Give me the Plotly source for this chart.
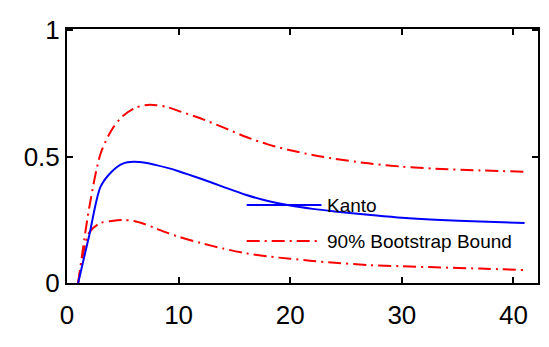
import plotly.graph_objects as go

# data
horizon = [1, 2, 3, 4, 5, 6, 7, 8, 9, 10, 12, 14, 16, 18, 20, 22, 24, 27, 30, 33, 37, 41]
kanto = [0.0, 0.19, 0.38, 0.44, 0.472, 0.479, 0.475, 0.466, 0.455, 0.442, 0.412, 0.38, 0.349,
         0.324, 0.306, 0.293, 0.283, 0.27, 0.258, 0.25, 0.243, 0.237]
upper = [0.0, 0.30, 0.51, 0.605, 0.66, 0.69, 0.703, 0.703, 0.695, 0.68, 0.65, 0.615, 0.578,
         0.548, 0.525, 0.506, 0.491, 0.473, 0.46, 0.452, 0.445, 0.44]
lower = [0.0, 0.20, 0.237, 0.245, 0.249, 0.245, 0.232, 0.215, 0.198, 0.183, 0.158, 0.136, 0.118,
         0.105, 0.096, 0.087, 0.08, 0.071, 0.066, 0.062, 0.057, 0.051]
legend_labels = ["Kanto", "90% Bootstrap Bound"]
x_ticks = [0, 10, 20, 30, 40]
y_ticks = [0, 0.5, 1]
y_tick_text = ["0", "0.5", "1"]

FONT = "Liberation Sans, Arial, sans-serif"
BLUE = "#0000ff"
RED = "#ff0000"
DASH = "13px,5px,2px,5px"

fig = go.Figure()
fig.add_trace(go.Scatter(x=horizon, y=upper, mode="lines",
                         line=dict(color=RED, width=2, dash=DASH, shape="spline", smoothing=0.8), showlegend=False))
fig.add_trace(go.Scatter(x=horizon, y=lower, mode="lines",
                         line=dict(color=RED, width=2, dash=DASH, shape="spline", smoothing=0.8), showlegend=False))
fig.add_trace(go.Scatter(x=horizon, y=kanto, mode="lines",
                         line=dict(color=BLUE, width=2, shape="spline", smoothing=0.8), showlegend=False))

# manual legend (no box), as in the reference
leg_x0, leg_x1 = 16.1, 22.8
rows = [(0.308, BLUE, "solid"), (0.166, RED, DASH)]
for (yy, col, dsh), label in zip(rows, legend_labels):
    fig.add_shape(type="line", x0=leg_x0, x1=leg_x1, y0=yy, y1=yy, xref="x", yref="y",
                  line=dict(color=col, width=2, dash=dsh))
    fig.add_annotation(x=leg_x1 + 0.3, y=yy, xref="x", yref="y", text=label, showarrow=False,
                       xanchor="left", yanchor="middle", font=dict(family=FONT, size=19, color="black"))

axis_common = dict(showline=True, linecolor="black", linewidth=2, mirror="ticks", ticks="inside",
                   ticklen=6, tickwidth=1.5, tickcolor="black", showgrid=False, zeroline=False,
                   tickfont=dict(family=FONT, size=26, color="black"))
fig.update_xaxes(range=[0, 42.2], tickvals=x_ticks, ticktext=[str(v) for v in x_ticks],
                 ticklabelstandoff=8, **axis_common)
fig.update_yaxes(range=[0, 1.004], tickvals=y_ticks, ticktext=y_tick_text, **axis_common)

fig.update_layout(width=549, height=347, margin=dict(l=67, r=9, t=29, b=64),
                  paper_bgcolor="white", plot_bgcolor="white", showlegend=False)
fig.write_html("out.html")
